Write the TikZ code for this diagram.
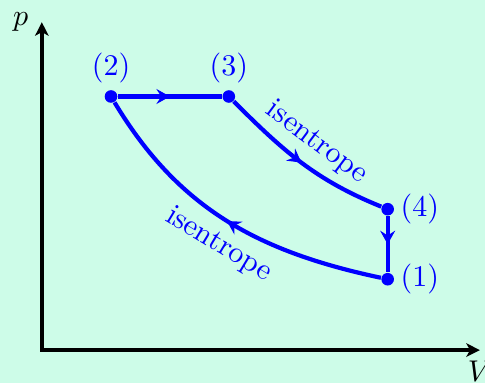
\documentclass[tikz,border=0pt]{standalone}
\usepackage{tikz}
\usetikzlibrary{positioning,decorations.markings,arrows.meta}
\definecolor{mintbg}{RGB}{205,252,232}

\begin{document}
\begin{tikzpicture}[
    axis/.style={{Stealth[length=4.5pt,width=4.5pt,inset=1.2pt]}-{Stealth[length=4.5pt,width=4.5pt,inset=1.2pt]}, line width=1.4pt},
    process/.style={draw=blue, line width=1.4pt, postaction={decorate},
        decoration={markings, mark=at position 0.5 with {\arrow{Stealth[length=4.5pt,width=5pt,inset=1.6pt]}}}},
    state/.style={circle, fill=blue, inner sep=0pt, minimum size=4.2pt},
    lbl/.style={text=blue}
]
\useasboundingbox[fill=mintbg] (-0.49,-0.39) rectangle (5.19,4.10);

% axes
\coordinate (ptop) at (0,3.84);
\coordinate (vend) at (5.13,0);
\draw[axis] (ptop) |- (vend);
\node[left=1pt of ptop] (plabel) {$p$};
\node[below=0pt of vend] (vlabel) {$V$};

% states
\node[state] (s1) at (4.05,0.83) {};
\node[state] (s2) at (0.81,2.97) {};
\node[state] (s3) at (2.19,2.97) {};
\node[state] (s4) at (4.05,1.65) {};
\node[lbl, right=-1.5pt of s1] (l1) {(1)};
\node[lbl, above=-1.5pt of s2] (l2) {(2)};
\node[lbl, above=-1.5pt of s3] (l3) {(3)};
\node[lbl, right=-1.5pt of s4] (l4) {(4)};

% cycle
\draw[process] (s2) -- (s3);
\draw[process] (s3) to[out=-45, in=158] node[lbl, sloped, above] (ise1) {isentrope} (s4);
\draw[process] (s4) -- (s1);
\draw[process] (s1) to[out=168, in=-59] node[lbl, sloped, below, pos=0.48] (ise2) {isentrope} (s2);
\end{tikzpicture}
\end{document}
